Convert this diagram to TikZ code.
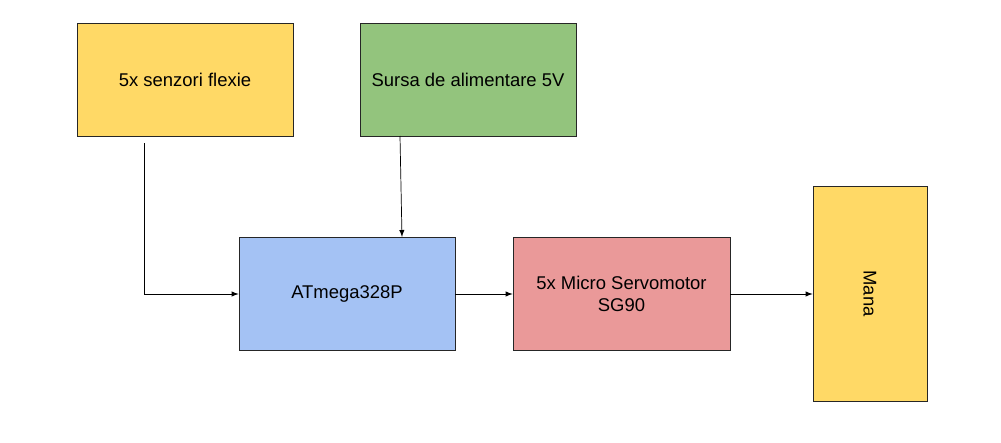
\documentclass[tikz,border=0pt]{standalone}
\usepackage{fontspec}
\setmainfont{Liberation Sans}
\usetikzlibrary{positioning}
\definecolor{galben}{HTML}{FFD966}
\definecolor{verde}{HTML}{93C47D}
\definecolor{albastru}{HTML}{A4C2F4}
\definecolor{rosu}{HTML}{EA9999}
\tikzset{
  bloc/.style={draw=black!85, line width=0.4pt, minimum width=4.32cm, minimum height=2.26cm, align=center, font=\fontsize{10.5}{12.5}\selectfont},
  sageata/.style={->, >=latex, line width=0.4pt}
}
\begin{document}
\begin{tikzpicture}
    \useasboundingbox (0,0) rectangle (20.02,-8.86);
    % blocuri
    \node[bloc, fill=galben] (senzori) at (3.70,-1.59) {5x senzori flexie};
    \node[bloc, fill=verde] (sursa) at (9.36,-1.59) {Sursa de alimentare 5V};
    \node[bloc, fill=albastru] (atmega) at (6.94,-5.87) {ATmega328P};
    \node[bloc, fill=rosu, minimum width=4.34cm] (servo) at (12.43,-5.88) {5x Micro Servomotor\\SG90};
    \node[bloc, fill=galben, minimum width=2.28cm, minimum height=4.3cm] (mana) at (17.40,-5.87) {};
    \node[rotate=-90, font=\fontsize{10.5}{12.5}\selectfont] (manatext) at (mana.center) {Mana};
    % conexiuni
    \coordinate (s0) at (2.88,-2.86);
    \coordinate (s1) at (2.88,-5.88);
    \coordinate (a0) at (8.00,-2.72);
    \coordinate (a1) at (8.04,-4.74);
    \draw[line width=0.4pt] (s0) -- (s1);
    \draw[sageata] (s1) -- (s1 -| atmega.west);
    \draw[sageata] (a0) -- (a1);
    \draw[sageata] (atmega.east |- servo) -- (servo.west);
    \draw[sageata] (servo.east) -- (servo.east -| mana.west);
\end{tikzpicture}
\end{document}
